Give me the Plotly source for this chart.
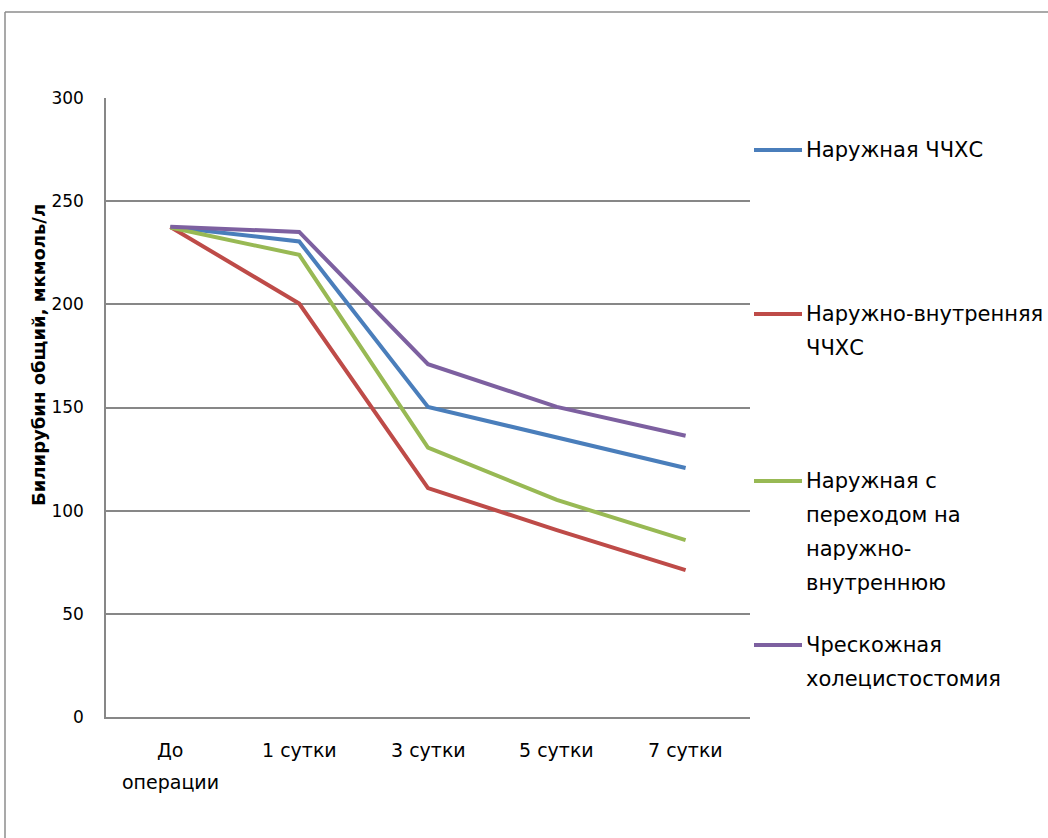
import plotly.graph_objects as go

# Time points (category labels, one list entry per displayed line)
categories = ["До операции", "1 сутки", "3 сутки", "5 сутки", "7 сутки"]
category_lines = [["До", "операции"], ["1 сутки"], ["3 сутки"], ["5 сутки"], ["7 сутки"]]

# Total bilirubin, µmol/L
series_names = [
    "Наружная ЧЧХС",
    "Наружно-внутренняя ЧЧХС",
    "Наружная с переходом на наружно-внутреннюю",
    "Чрескожная холецистостомия",
]
naruzhnaya = [237.5, 230.5, 150.3, 135.7, 120.7]
naruzhno_vnutrennyaya = [237.5, 200.4, 110.9, 90.6, 71.2]
s_perekhodom = [237.2, 224.0, 130.6, 105.2, 85.7]
kholetsistostomiya = [237.6, 235.1, 171.0, 150.3, 136.3]

y_ticks = [0, 50, 100, 150, 200, 250, 300]
y_title = "Билирубин общий, мкмоль/л"

# Legend text split into lines as displayed
legend_lines = [
    ["Наружная ЧЧХС"],
    ["Наружно-внутренняя", "ЧЧХС"],
    ["Наружная с", "переходом на", "наружно-", "внутреннюю"],
    ["Чрескожная", "холецистостомия"],
]

colors = ["#4A7EBB", "#BE4B48", "#98B954", "#7D60A0"]
values = [naruzhnaya, naruzhno_vnutrennyaya, s_perekhodom, kholetsistostomiya]
FONT = "DejaVu Sans"

fig = go.Figure()
for name, vals, col in zip(series_names, values, colors):
    fig.add_trace(go.Scatter(
        x=list(range(len(categories))), y=vals, name=name, mode="lines",
        line=dict(color=col, width=4), showlegend=False,
    ))

# plot area in pixels
W, H = 1048, 838
L, R, T, B = 106, 750, 98, 717
pw, ph = R - L, B - T


def px(x):
    return (x - L) / pw


def py(y):
    return (B - y) / ph


shapes = []
annotations = []

# outer chart frame (top and left edges visible)
frame = dict(color="#8C8C8C", width=1.5)
shapes.append(dict(type="line", xref="paper", yref="paper",
                   x0=px(5), x1=px(1060), y0=py(12), y1=py(12), line=frame))
shapes.append(dict(type="line", xref="paper", yref="paper",
                   x0=px(5), x1=px(5), y0=py(12), y1=py(850), line=frame))

# category labels below the x axis
for i, lines in enumerate(category_lines):
    for j, t in enumerate(lines):
        annotations.append(dict(
            text=t, xref="x", yref="paper", x=i, y=py(750 + j * 32),
            xanchor="center", yanchor="middle", showarrow=False,
            font=dict(family=FONT, size=19, color="#000000"),
        ))

# y axis title
annotations.append(dict(
    text="<b>" + y_title + "</b>", xref="paper", yref="paper",
    x=px(38), y=py(355), xanchor="center", yanchor="middle", textangle=-90,
    showarrow=False, font=dict(family=FONT, size=18, color="#000000"),
))

# custom legend
legend_y = [150, 314, 481, 645]
line_gap = 34
for lines, col, y0 in zip(legend_lines, colors, legend_y):
    shapes.append(dict(type="line", xref="paper", yref="paper",
                       x0=px(754), x1=px(802), y0=py(y0), y1=py(y0),
                       line=dict(color=col, width=4)))
    for i, t in enumerate(lines):
        annotations.append(dict(
            text=t, xref="paper", yref="paper", x=px(804), y=py(y0 + i * line_gap),
            xanchor="left", yanchor="middle", showarrow=False,
            font=dict(family=FONT, size=21, color="#000000"),
        ))

fig.update_layout(
    width=W, height=H,
    margin=dict(l=L, r=W - R, t=T, b=H - B),
    paper_bgcolor="white", plot_bgcolor="white",
    shapes=shapes, annotations=annotations,
    xaxis=dict(
        range=[-0.5, len(categories) - 0.5], showgrid=False, zeroline=False,
        showline=True, linecolor="#878787", linewidth=1.5,
        ticks="", showticklabels=False, fixedrange=True,
    ),
    yaxis=dict(
        range=[0, 300], tickvals=y_ticks,
        showgrid=True, gridcolor="#878787", gridwidth=1.5, zeroline=False,
        showline=True, linecolor="#878787", linewidth=1.5,
        ticks="", ticklabelstandoff=17,
        tickfont=dict(family=FONT, size=17, color="#000000"),
        fixedrange=True,
    ),
    font=dict(family=FONT),
)

fig.write_html("out.html")
